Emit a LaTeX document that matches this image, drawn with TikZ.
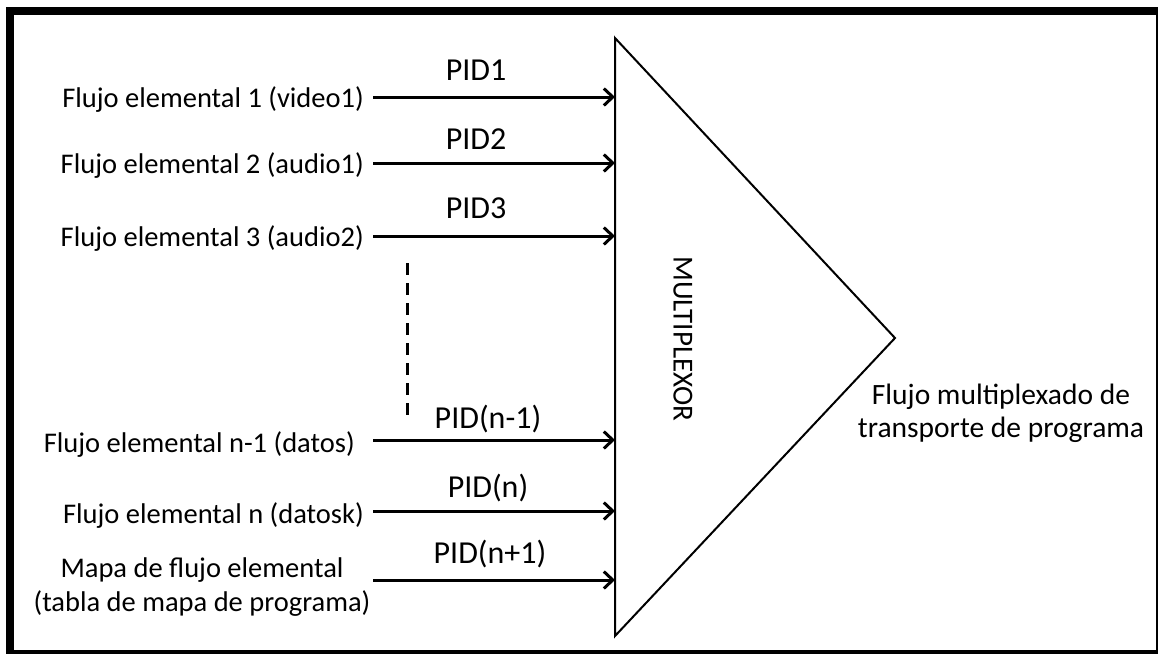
\documentclass[tikz,border=0pt]{standalone}
\usepackage{fontspec}
\setmainfont{Carlito}
\usetikzlibrary{arrows.meta}
\begin{document}
\begin{tikzpicture}[x=1pt,y=-1pt,
  lbl/.style={inner sep=0pt, font=\fontsize{28.5}{34}\selectfont, align=center},
  pid/.style={inner sep=0pt, anchor=base, font=\fontsize{32}{38}\selectfont},
  inarrow/.style={line width=3pt, -{Straight Barb[length=9pt,width=17pt,line width=3pt]}},
  dashline/.style={line width=3pt, dash pattern=on 12pt off 8pt}]
\useasboundingbox (0,0) rectangle (1158,654);
\fill[black] (6,7) rectangle (1158,654);
\fill[white] (14,15) rectangle (1156,650);
% triangle
\draw[line width=2pt, line join=miter] (615,38) -- (895,338) -- (615,636) -- cycle;
\node[lbl, rotate=-90, font=\fontsize{29}{34}\selectfont] (mux) at (683,339) {MULTIPLEXOR};
% inputs
\node[lbl, anchor=base east] (s1) at (364,107) {Flujo elemental 1 (video1)};
\node[lbl, anchor=base east] (s2) at (364,173) {Flujo elemental 2 (audio1)};
\node[lbl, anchor=base east] (s3) at (364,246) {Flujo elemental 3 (audio2)};
\node[lbl, anchor=base east] (s4) at (355,452) {Flujo elemental n-1 (datos)};
\node[lbl, anchor=base east] (s5) at (364,523) {Flujo elemental n (datosk)};
\node[lbl, anchor=base] (s6) at (202,611) {Mapa de flujo elemental\\(tabla de mapa de programa)};
\coordinate (a1s) at (373,97);  \coordinate (a1e) at (615,97);
\coordinate (a2s) at (373,163); \coordinate (a2e) at (615,163);
\coordinate (a3s) at (373,236); \coordinate (a3e) at (615,236);
\coordinate (a4s) at (373,440); \coordinate (a4e) at (615,440);
\coordinate (a5s) at (373,511); \coordinate (a5e) at (615,511);
\coordinate (a6s) at (373,580); \coordinate (a6e) at (615,580);
\foreach \i in {1,...,6} {\draw[inarrow] (a\i s) -- (a\i e);}
\node[pid] (p1) at (476,80) {PID1};
\node[pid] (p2) at (476,149) {PID2};
\node[pid] (p3) at (476,218) {PID3};
\node[pid] (p4) at (488,428) {PID(n-1)};
\node[pid] (p5) at (488,497) {PID(n)};
\node[pid] (p6) at (490,563) {PID(n+1)};
% dashed
\coordinate (d1) at (407,263); \coordinate (d2) at (407,415);
\draw[dashline] (d1) -- (d2);
% output
\node[lbl, anchor=base, font=\fontsize{29.5}{33}\selectfont] (out) at (1001,437) {Flujo multiplexado de\\transporte de programa};
\end{tikzpicture}
\end{document}
